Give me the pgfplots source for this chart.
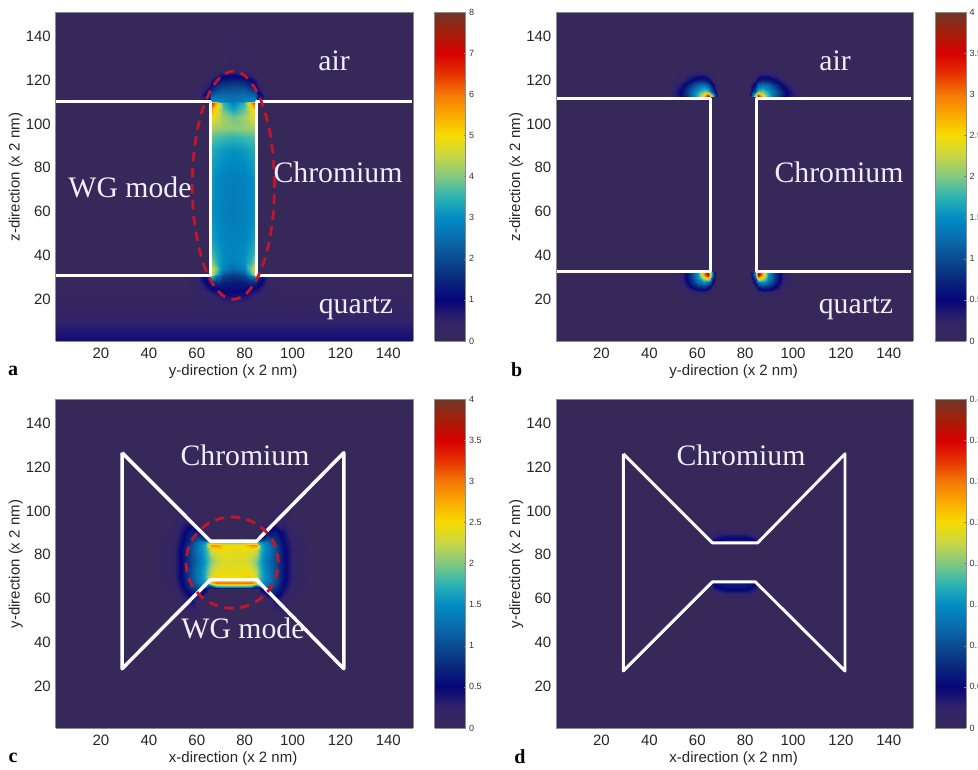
\documentclass[border=0pt]{standalone}
\usepackage{fontspec}
\setmainfont{Liberation Sans}
\newfontfamily\serifann{Liberation Serif}
\usepackage{pgfplots}
\pgfplotsset{compat=1.18}
\definecolor{ann}{RGB}{240,238,248}
\definecolor{wgred}{RGB}{196,22,42}
\pgfplotsset{
 colormap={jetm}{rgb255=(55,40,90) rgb255=(50,35,105) rgb255=(5,5,120) rgb255=(10,40,125) rgb255=(10,75,145) rgb255=(10,110,175) rgb255=(0,140,195) rgb255=(45,180,180) rgb255=(130,200,130) rgb255=(200,215,70) rgb255=(245,220,0) rgb255=(250,170,0) rgb255=(245,120,5) rgb255=(230,50,0) rgb255=(215,0,0) rgb255=(165,30,10) rgb255=(110,55,40)},
 panel/.style={
  scale only axis, width=268.1pt, height=246.75pt, view={0}{90},
  xmin=1, xmax=150.3, ymin=1, ymax=151,
  xtick={20,40,...,140}, ytick={20,40,...,140},
  /pgf/number format/assume math mode=true,
  tick label style={font=\fontsize{11.25}{13}\selectfont, color=black!85},
  xticklabel style={yshift=-2pt},
  label style={font=\fontsize{11.25}{13}\selectfont, color=black!85},
  axis line style={color=black!45}, tick style={draw=none},
  xlabel style={at={(axis description cs:0.497,-0.094)},anchor=center},
  ylabel style={at={(axis description cs:-0.111,0.498)},anchor=center},
 },
 cbar/.style={
  scale only axis, width=23.4pt, height=246.75pt, view={0}{90},
  xmin=0, xmax=1, xtick=\empty, ymin=0, ymax=#1, point meta min=0, point meta max=#1,
  axis line style={color=black!45},
  tick style={color=black!50,major tick length=1.5pt},
  tick align=inside, ytick pos=right,
  yticklabel style={font=\fontsize{6.75}{8}\selectfont,color=black!80,xshift=-1pt,
    /pgf/number format/fixed,/pgf/number format/precision=2,/pgf/number format/assume math mode=true},
 },
 wl/.style={white,line width=2.3pt,no markers,forget plot,line join=round},
 el/.style={wgred,line width=2.1pt,dash pattern=on 7pt off 5pt,smooth,no markers,forget plot},
}
\newcommand{\ann}[3]{\node[text=ann,font=\serifann\fontsize{22.3}{24}\selectfont,inner sep=0pt] at (#1,#2) {#3};}
\newcommand{\plab}[3]{\node[text=black,font=\serifann\bfseries\fontsize{15}{17}\selectfont,inner sep=0pt] at (#1,#2) {#3};}
\begin{document}
\begin{tikzpicture}[x=0.75pt,y=0.75pt]
\path[use as bounding box] (0,0) rectangle (978,770);
% ---------- a
\begin{axis}[panel,at={(41.625pt,321.75pt)},anchor=south west,
 point meta min=0,point meta max=8,
 xlabel={y-direction (x 2 nm)},ylabel={z-direction (x 2 nm)}]
\addplot3[surf,shader=interp,mesh/cols=15,forget plot] coordinates {
(1,1,.9) (56,1,.9) (61,1,.9) (65.4,1,.9) (66,1,.9) (68,1,.9) (71,1,.9) (75.3,1,.9) (79.6,1,.9) (82.6,1,.9) (84.6,1,.9) (85.2,1,.9) (89,1,.9) (94,1,.9) (150.3,1,.9)
(1,8,.6) (56,8,.6) (61,8,.6) (65.4,8,.6) (66,8,.6) (68,8,.6) (71,8,.6) (75.3,8,.6) (79.6,8,.6) (82.6,8,.6) (84.6,8,.6) (85.2,8,.6) (89,8,.6) (94,8,.6) (150.3,8,.6)
(1,16,.3) (56,16,.3) (61,16,.3) (65.4,16,.3) (66,16,.3) (68,16,.3) (71,16,.3) (75.3,16,.3) (79.6,16,.3) (82.6,16,.3) (84.6,16,.3) (85.2,16,.3) (89,16,.3) (94,16,.3) (150.3,16,.3)
(1,22,.18) (56,22,.18) (61,22,.25) (65.4,22,.4) (66,22,.45) (68,22,.6) (71,22,.8) (75.3,22,.85) (79.6,22,.8) (82.6,22,.6) (84.6,22,.45) (85.2,22,.4) (89,22,.25) (94,22,.18) (150.3,22,.18)
(1,25,.12) (56,25,.12) (61,25,.35) (65.4,25,.9) (66,25,1.0) (68,25,1.1) (71,25,1.15) (75.3,25,1.15) (79.6,25,1.15) (82.6,25,1.1) (84.6,25,1.0) (85.2,25,.9) (89,25,.35) (94,25,.12) (150.3,25,.12)
(1,28,.06) (56,28,.1) (61,28,.5) (65.4,28,1.3) (66,28,1.6) (68,28,1.6) (71,28,1.4) (75.3,28,1.3) (79.6,28,1.4) (82.6,28,1.6) (84.6,28,1.6) (85.2,28,1.3) (89,28,.5) (94,28,.1) (150.3,28,.06)
(1,30.5,.03) (56,30.5,.1) (61,30.5,.6) (65.4,30.5,1.8) (66,30.5,3.8) (68,30.5,2.7) (71,30.5,1.9) (75.3,30.5,1.7) (79.6,30.5,1.9) (82.6,30.5,2.7) (84.6,30.5,3.8) (85.2,30.5,1.8) (89,30.5,.6) (94,30.5,.1) (150.3,30.5,.03)
(1,31.5,0) (56,31.5,0) (61,31.5,0) (65.4,31.5,0) (66,31.5,4.8) (68,31.5,3.6) (71,31.5,2.2) (75.3,31.5,1.9) (79.6,31.5,2.2) (82.6,31.5,3.6) (84.6,31.5,4.8) (85.2,31.5,0) (89,31.5,0) (94,31.5,0) (150.3,31.5,0)
(1,34,0) (56,34,0) (61,34,0) (65.4,34,0) (66,34,5.0) (68,34,4.0) (71,34,2.8) (75.3,34,2.4) (79.6,34,2.8) (82.6,34,4.0) (84.6,34,5.0) (85.2,34,0) (89,34,0) (94,34,0) (150.3,34,0)
(1,37,0) (56,37,0) (61,37,0) (65.4,37,0) (66,37,4.2) (68,37,3.5) (71,37,3.0) (75.3,37,2.8) (79.6,37,3.0) (82.6,37,3.5) (84.6,37,4.2) (85.2,37,0) (89,37,0) (94,37,0) (150.3,37,0)
(1,41,0) (56,41,0) (61,41,0) (65.4,41,0) (66,41,3.7) (68,41,3.3) (71,41,3.0) (75.3,41,2.9) (79.6,41,3.0) (82.6,41,3.3) (84.6,41,3.7) (85.2,41,0) (89,41,0) (94,41,0) (150.3,41,0)
(1,48,0) (56,48,0) (61,48,0) (65.4,48,0) (66,48,3.3) (68,48,3.1) (71,48,2.9) (75.3,48,2.8) (79.6,48,2.9) (82.6,48,3.1) (84.6,48,3.3) (85.2,48,0) (89,48,0) (94,48,0) (150.3,48,0)
(1,60,0) (56,60,0) (61,60,0) (65.4,60,0) (66,60,3.1) (68,60,2.95) (71,60,2.8) (75.3,60,2.7) (79.6,60,2.8) (82.6,60,2.95) (84.6,60,3.1) (85.2,60,0) (89,60,0) (94,60,0) (150.3,60,0)
(1,75,0) (56,75,0) (61,75,0) (65.4,75,0) (66,75,3.2) (68,75,3.0) (71,75,2.85) (75.3,75,2.75) (79.6,75,2.85) (82.6,75,3.0) (84.6,75,3.2) (85.2,75,0) (89,75,0) (94,75,0) (150.3,75,0)
(1,88,0) (56,88,0) (61,88,0) (65.4,88,0) (66,88,3.4) (68,88,3.3) (71,88,3.15) (75.3,88,3.05) (79.6,88,3.15) (82.6,88,3.3) (84.6,88,3.4) (85.2,88,0) (89,88,0) (94,88,0) (150.3,88,0)
(1,94,0) (56,94,0) (61,94,0) (65.4,94,0) (66,94,3.8) (68,94,3.7) (71,94,3.6) (75.3,94,3.5) (79.6,94,3.6) (82.6,94,3.7) (84.6,94,3.8) (85.2,94,0) (89,94,0) (94,94,0) (150.3,94,0)
(1,98,0) (56,98,0) (61,98,0) (65.4,98,0) (66,98,4.3) (68,98,4.2) (71,98,4.15) (75.3,98,4.1) (79.6,98,4.15) (82.6,98,4.2) (84.6,98,4.3) (85.2,98,0) (89,98,0) (94,98,0) (150.3,98,0)
(1,103,0) (56,103,0) (61,103,0) (65.4,103,0) (66,103,5.0) (68,103,4.6) (71,103,4.2) (75.3,103,3.9) (79.6,103,4.2) (82.6,103,4.6) (84.6,103,5.0) (85.2,103,0) (89,103,0) (94,103,0) (150.3,103,0)
(1,107,0) (56,107,0) (61,107,0) (65.4,107,0) (66,107,5.6) (68,107,4.8) (71,107,3.8) (75.3,107,3.2) (79.6,107,3.8) (82.6,107,4.8) (84.6,107,5.6) (85.2,107,0) (89,107,0) (94,107,0) (150.3,107,0)
(1,109.5,0) (56,109.5,0) (61,109.5,0) (65.4,109.5,0) (66,109.5,6.8) (68,109.5,5.6) (71,109.5,3.5) (75.3,109.5,2.9) (79.6,109.5,3.5) (82.6,109.5,5.6) (84.6,109.5,6.8) (85.2,109.5,0) (89,109.5,0) (94,109.5,0) (150.3,109.5,0)
(1,110.5,0) (56,110.5,0) (61,110.5,.2) (65.4,110.5,1.2) (66,110.5,3) (68,110.5,3) (71,110.5,2.8) (75.3,110.5,2.6) (79.6,110.5,2.8) (82.6,110.5,3) (84.6,110.5,3) (85.2,110.5,1.2) (89,110.5,.2) (94,110.5,0) (150.3,110.5,0)
(1,113,0) (56,113,0) (61,113,.3) (65.4,113,1.5) (66,113,2.2) (68,113,2.4) (71,113,2.5) (75.3,113,2.4) (79.6,113,2.5) (82.6,113,2.4) (84.6,113,2.2) (85.2,113,1.5) (89,113,.3) (94,113,0) (150.3,113,0)
(1,116,0) (56,116,0) (61,116,.1) (65.4,116,.9) (66,116,1.4) (68,116,1.8) (71,116,2.1) (75.3,116,2.1) (79.6,116,2.1) (82.6,116,1.8) (84.6,116,1.4) (85.2,116,.9) (89,116,.1) (94,116,0) (150.3,116,0)
(1,119,0) (56,119,0) (61,119,0) (65.4,119,.4) (66,119,.8) (68,119,1.2) (71,119,1.5) (75.3,119,1.6) (79.6,119,1.5) (82.6,119,1.2) (84.6,119,.8) (85.2,119,.4) (89,119,0) (94,119,0) (150.3,119,0)
(1,122,0) (56,122,0) (61,122,0) (65.4,122,.1) (66,122,.2) (68,122,.6) (71,122,.9) (75.3,122,1.0) (79.6,122,.9) (82.6,122,.6) (84.6,122,.2) (85.2,122,.1) (89,122,0) (94,122,0) (150.3,122,0)
(1,125,0) (56,125,0) (61,125,0) (65.4,125,0) (66,125,0) (68,125,.05) (71,125,.15) (75.3,125,.2) (79.6,125,.15) (82.6,125,.05) (84.6,125,0) (85.2,125,0) (89,125,0) (94,125,0) (150.3,125,0)
(1,151,0) (56,151,0) (61,151,0) (65.4,151,0) (66,151,0) (68,151,0) (71,151,0) (75.3,151,0) (79.6,151,0) (82.6,151,0) (84.6,151,0) (85.2,151,0) (89,151,0) (94,151,0) (150.3,151,0)
};
\addplot[wl] coordinates {(1,110) (65.7,110) (65.7,31) (1,31)};
\addplot[wl] coordinates {(149.7,110) (84.9,110) (84.9,31) (149.7,31)};
\addplot[el] coordinates {(92.5,72) (91.9,85.5) (90.2,98) (87.5,108.8) (83.9,117) (79.8,122.2) (75.3,124) (70.8,122.2) (66.7,117) (63.1,108.8) (60.4,98) (58.7,85.5) (58.1,72) (58.7,58.5) (60.4,46) (63.1,35.2) (66.7,27) (70.8,21.8) (75.3,20) (79.8,21.8) (83.9,27) (87.5,35.2) (90.2,46) (91.9,58.5) (92.5,72)};
\end{axis}
\begin{axis}[cbar=8,at={(325.9pt,321.75pt)},anchor=south west,ytick={0,1,...,8}]
\addplot3[surf,shader=interp,mesh/cols=2,forget plot] coordinates {(0,0,0) (1,0,0) (0,8,8) (1,8,8)};
\end{axis}
% ---------- b
\begin{axis}[panel,at={(417pt,321.75pt)},anchor=south west,
 point meta min=0,point meta max=4,
 xlabel={y-direction (x 2 nm)},ylabel={z-direction (x 2 nm)}]
\addplot3[surf,shader=interp,mesh/cols=2,forget plot] coordinates {(1,1,0) (150.3,1,0) (1,151,0) (150.3,151,0)};
\addplot3[surf,shader=interp,mesh/cols=8,forget plot] coordinates {
(48,112.3,.1) (53,112.3,.4) (57,112.3,1.0) (60.5,112.3,1.8) (63,112.3,2.9) (64.6,112.3,3.6) (66,112.3,2.4) (68.5,112.3,0)
(48,113.2,.1) (53,113.2,.5) (57,113.2,1.1) (60.5,113.2,1.8) (63,113.2,2.5) (64.6,113.2,3.3) (66,113.2,2.0) (68.5,113.2,.2)
(48,115,.1) (53,115,.5) (57,115,1.1) (60.5,115,1.6) (63,115,1.9) (64.6,115,1.8) (66,115,1.0) (68.5,115,.1)
(48,117.5,0) (53,117.5,.35) (57,117.5,.8) (60.5,117.5,1.2) (63,117.5,1.3) (64.6,117.5,1.1) (66,117.5,.6) (68.5,117.5,.1)
(48,120,0) (53,120,.15) (57,120,.45) (60.5,120,.65) (63,120,.7) (64.6,120,.55) (66,120,.25) (68.5,120,0)
(48,123,0) (53,123,.03) (57,123,.15) (60.5,123,.22) (63,123,.22) (64.6,123,.15) (66,123,.05) (68.5,123,0)
(48,126,0) (53,126,0) (57,126,0) (60.5,126,0) (63,126,0) (64.6,126,0) (66,126,0) (68.5,126,0)
};
\addplot3[surf,shader=interp,mesh/cols=8,forget plot] coordinates {
(81.5,112.3,0) (84,112.3,2.4) (85.4,112.3,3.6) (87,112.3,2.9) (89.5,112.3,1.8) (93,112.3,1.0) (97,112.3,.4) (103,112.3,.1)
(81.5,113.2,.2) (84,113.2,2.0) (85.4,113.2,3.3) (87,113.2,2.5) (89.5,113.2,1.8) (93,113.2,1.1) (97,113.2,.5) (103,113.2,.1)
(81.5,115,.1) (84,115,1.0) (85.4,115,1.8) (87,115,1.9) (89.5,115,1.6) (93,115,1.1) (97,115,.5) (103,115,.1)
(81.5,117.5,.1) (84,117.5,.6) (85.4,117.5,1.1) (87,117.5,1.3) (89.5,117.5,1.2) (93,117.5,.8) (97,117.5,.35) (103,117.5,0)
(81.5,120,0) (84,120,.25) (85.4,120,.55) (87,120,.7) (89.5,120,.65) (93,120,.45) (97,120,.15) (103,120,0)
(81.5,123,0) (84,123,.05) (85.4,123,.15) (87,123,.22) (89.5,123,.22) (93,123,.15) (97,123,.03) (103,123,0)
(81.5,126,0) (84,126,0) (85.4,126,0) (87,126,0) (89.5,126,0) (93,126,0) (97,126,0) (103,126,0)
};
\addplot3[surf,shader=interp,mesh/cols=8,forget plot] coordinates {
(50,21,0) (54,21,0) (57.5,21,0) (60.5,21,0) (63,21,0) (64.6,21,0) (66,21,0) (68,21,0)
(50,24,0) (54,24,.08) (57.5,24,.25) (60.5,24,.35) (63,24,.35) (64.6,24,.28) (66,24,.08) (68,24,0)
(50,26,.02) (54,26,.18) (57.5,26,.55) (60.5,26,.85) (63,26,.95) (64.6,26,.75) (66,26,.3) (68,26,0)
(50,28,.02) (54,28,.25) (57.5,28,.75) (60.5,28,1.25) (63,28,1.55) (64.6,28,1.35) (66,28,.65) (68,28,.05)
(50,29.5,.03) (54,29.5,.3) (57.5,29.5,.85) (60.5,29.5,1.5) (63,29.5,2.3) (64.6,29.5,2.7) (66,29.5,1) (68,29.5,.1)
(50,31,.03) (54,31,.3) (57.5,31,.85) (60.5,31,1.6) (63,31,2.9) (64.6,31,3.6) (66,31,1.5) (68,31,.1)
(50,32.3,.03) (54,32.3,.3) (57.5,32.3,.85) (60.5,32.3,1.6) (63,32.3,2.9) (64.6,32.3,3.6) (66,32.3,1.5) (68,32.3,.1)
};
\addplot3[surf,shader=interp,mesh/cols=8,forget plot] coordinates {
(82,21,0) (84,21,0) (85.4,21,0) (87,21,0) (89.5,21,0) (92.5,21,0) (96,21,0) (100,21,0)
(82,24,0) (84,24,.08) (85.4,24,.28) (87,24,.35) (89.5,24,.35) (92.5,24,.25) (96,24,.08) (100,24,0)
(82,26,0) (84,26,.3) (85.4,26,.75) (87,26,.95) (89.5,26,.85) (92.5,26,.55) (96,26,.18) (100,26,.02)
(82,28,.05) (84,28,.65) (85.4,28,1.35) (87,28,1.55) (89.5,28,1.25) (92.5,28,.75) (96,28,.25) (100,28,.02)
(82,29.5,.1) (84,29.5,1) (85.4,29.5,2.7) (87,29.5,2.3) (89.5,29.5,1.5) (92.5,29.5,.85) (96,29.5,.3) (100,29.5,.03)
(82,31,.1) (84,31,1.5) (85.4,31,3.6) (87,31,2.9) (89.5,31,1.6) (92.5,31,.85) (96,31,.3) (100,31,.03)
(82,32.3,.1) (84,32.3,1.5) (85.4,32.3,3.6) (87,32.3,2.9) (89.5,32.3,1.6) (92.5,32.3,.85) (96,32.3,.3) (100,32.3,.03)
};
\addplot[wl] coordinates {(1,111.6) (65.5,111.6) (65.5,32.7) (1,32.7)};
\addplot[wl] coordinates {(149.3,111.6) (84.9,111.6) (84.9,32.7) (149.3,32.7)};
\end{axis}
\begin{axis}[cbar=4,at={(701.25pt,321.75pt)},anchor=south west,ytick={0,0.5,...,4}]
\addplot3[surf,shader=interp,mesh/cols=2,forget plot] coordinates {(0,0,0) (1,0,0) (0,4,4) (1,4,4)};
\end{axis}
% ---------- c
\begin{axis}[panel,at={(41.625pt,31.5pt)},anchor=south west,
 point meta min=0,point meta max=4,
 xlabel={x-direction (x 2 nm)},ylabel={y-direction (x 2 nm)}]
\addplot3[surf,shader=interp,mesh/cols=2,forget plot] coordinates {(1,1,0) (150.3,1,0) (1,151,0) (150.3,151,0)};
\addplot3[surf,shader=interp,mesh/cols=19,forget plot] coordinates {
(40,50,0) (50,50,0) (54,50,0) (58,50,0) (61,50,0) (63.5,50,0) (66,50,0) (68,50,0) (71,50,0) (75.3,50,0) (79.6,50,0) (82.6,50,0) (84.6,50,0) (87,50,0) (89.5,50,0) (92.5,50,0) (96.5,50,0) (100.5,50,0) (110,50,0)
(40,60,0) (50,60,.05) (54,60,.2) (58,60,.45) (61,60,.1) (63.5,60,0) (66,60,0) (68,60,0) (71,60,0) (75.3,60,0) (79.6,60,0) (82.6,60,0) (84.6,60,0) (87,60,0) (89.5,60,.1) (92.5,60,.45) (96.5,60,.2) (100.5,60,.05) (110,60,0)
(40,64.5,0) (50,64.5,.12) (54,64.5,.4) (58,64.5,.8) (61,64.5,1.0) (63.5,64.5,.5) (66,64.5,0) (68,64.5,0) (71,64.5,0) (75.3,64.5,0) (79.6,64.5,0) (82.6,64.5,0) (84.6,64.5,0) (87,64.5,.5) (89.5,64.5,1.0) (92.5,64.5,.8) (96.5,64.5,.4) (100.5,64.5,.12) (110,64.5,0)
(40,65.5,0) (50,65.5,.13) (54,65.5,.45) (58,65.5,.9) (61,65.5,1.1) (63.5,65.5,1.1) (66,65.5,.6) (68,65.5,1.4) (71,65.5,1.5) (75.3,65.5,1.5) (79.6,65.5,1.5) (82.6,65.5,1.4) (84.6,65.5,.6) (87,65.5,1.1) (89.5,65.5,1.1) (92.5,65.5,.9) (96.5,65.5,.45) (100.5,65.5,.13) (110,65.5,0)
(40,67,0) (50,67,.15) (54,67,.5) (58,67,1.0) (61,67,1.3) (63.5,67,1.6) (66,67,2.6) (68,67,3.0) (71,67,3.0) (75.3,67,3.0) (79.6,67,3.0) (82.6,67,3.0) (84.6,67,2.6) (87,67,1.6) (89.5,67,1.3) (92.5,67,1.0) (96.5,67,.5) (100.5,67,.15) (110,67,0)
(40,69,0) (50,69,.18) (54,69,.55) (58,69,1.05) (61,69,1.4) (63.5,69,1.7) (66,69,2.4) (68,69,2.7) (71,69,2.6) (75.3,69,2.55) (79.6,69,2.6) (82.6,69,2.7) (84.6,69,2.4) (87,69,1.7) (89.5,69,1.4) (92.5,69,1.05) (96.5,69,.55) (100.5,69,.18) (110,69,0)
(40,72,0) (50,72,.2) (54,72,.55) (58,72,1.05) (61,72,1.4) (63.5,72,1.7) (66,72,2.2) (68,72,2.4) (71,72,2.45) (75.3,72,2.4) (79.6,72,2.45) (82.6,72,2.4) (84.6,72,2.2) (87,72,1.7) (89.5,72,1.4) (92.5,72,1.05) (96.5,72,.55) (100.5,72,.2) (110,72,0)
(40,77,0) (50,77,.2) (54,77,.55) (58,77,1.0) (61,77,1.3) (63.5,77,1.6) (66,77,2.0) (68,77,2.2) (71,77,2.35) (75.3,77,2.35) (79.6,77,2.35) (82.6,77,2.2) (84.6,77,2.0) (87,77,1.6) (89.5,77,1.3) (92.5,77,1.0) (96.5,77,.55) (100.5,77,.2) (110,77,0)
(40,82,0) (50,82,.2) (54,82,.55) (58,82,1.05) (61,82,1.4) (63.5,82,1.7) (66,82,2.3) (68,82,2.4) (71,82,2.45) (75.3,82,2.4) (79.6,82,2.45) (82.6,82,2.4) (84.6,82,2.3) (87,82,1.7) (89.5,82,1.4) (92.5,82,1.05) (96.5,82,.55) (100.5,82,.2) (110,82,0)
(40,84.5,0) (50,84.5,.18) (54,84.5,.5) (58,84.5,1.0) (61,84.5,1.4) (63.5,84.5,1.7) (66,84.5,2.9) (68,84.5,2.9) (71,84.5,2.55) (75.3,84.5,2.5) (79.6,84.5,2.55) (82.6,84.5,2.9) (84.6,84.5,2.9) (87,84.5,1.7) (89.5,84.5,1.4) (92.5,84.5,1.0) (96.5,84.5,.5) (100.5,84.5,.18) (110,84.5,0)
(40,85.7,0) (50,85.7,.15) (54,85.7,.5) (58,85.7,.9) (61,85.7,1.3) (63.5,85.7,1.5) (66,85.7,1.8) (68,85.7,1.8) (71,85.7,1.8) (75.3,85.7,1.8) (79.6,85.7,1.8) (82.6,85.7,1.8) (84.6,85.7,1.8) (87,85.7,1.5) (89.5,85.7,1.3) (92.5,85.7,.9) (96.5,85.7,.5) (100.5,85.7,.15) (110,85.7,0)
(40,86.5,0) (50,86.5,.15) (54,86.5,.45) (58,86.5,.85) (61,86.5,1.1) (63.5,86.5,.9) (66,86.5,0) (68,86.5,0) (71,86.5,0) (75.3,86.5,0) (79.6,86.5,0) (82.6,86.5,0) (84.6,86.5,0) (87,86.5,.9) (89.5,86.5,1.1) (92.5,86.5,.85) (96.5,86.5,.45) (100.5,86.5,.15) (110,86.5,0)
(40,90,0) (50,90,.12) (54,90,.4) (58,90,.7) (61,90,.6) (63.5,90,.05) (66,90,0) (68,90,0) (71,90,0) (75.3,90,0) (79.6,90,0) (82.6,90,0) (84.6,90,0) (87,90,.05) (89.5,90,.6) (92.5,90,.7) (96.5,90,.4) (100.5,90,.12) (110,90,0)
(40,96,0) (50,96,.05) (54,96,.2) (58,96,.15) (61,96,0) (63.5,96,0) (66,96,0) (68,96,0) (71,96,0) (75.3,96,0) (79.6,96,0) (82.6,96,0) (84.6,96,0) (87,96,0) (89.5,96,0) (92.5,96,.15) (96.5,96,.2) (100.5,96,.05) (110,96,0)
(40,105,0) (50,105,0) (54,105,0) (58,105,0) (61,105,0) (63.5,105,0) (66,105,0) (68,105,0) (71,105,0) (75.3,105,0) (79.6,105,0) (82.6,105,0) (84.6,105,0) (87,105,0) (89.5,105,0) (92.5,105,0) (96.5,105,0) (100.5,105,0) (110,105,0)
};
\addplot[white,line width=2.6pt,no markers,forget plot,line join=round] coordinates {(28.8,126.5) (65.7,86.2) (85,86.2) (121.4,126.5) (121.4,28) (85,68.6) (65.7,68.6) (28.8,28) (28.8,126.5)};
\addplot[el] coordinates {(94.1,76.4) (93.4,81.8) (91.5,86.8) (88.4,91.1) (84.45,94.4) (79.8,96.5) (74.8,97.2) (69.8,96.5) (65.15,94.4) (61.2,91.1) (58.1,86.8) (56.2,81.8) (55.5,76.4) (56.2,71) (58.1,66) (61.2,61.7) (65.15,58.4) (69.8,56.3) (74.8,55.6) (79.8,56.3) (84.45,58.4) (88.4,61.7) (91.5,66) (93.4,71) (94.1,76.4)};
\end{axis}
\begin{axis}[cbar=4,at={(325.9pt,31.5pt)},anchor=south west,ytick={0,0.5,...,4}]
\addplot3[surf,shader=interp,mesh/cols=2,forget plot] coordinates {(0,0,0) (1,0,0) (0,4,4) (1,4,4)};
\end{axis}
% ---------- d
\begin{axis}[panel,at={(417pt,31.5pt)},anchor=south west,
 point meta min=0,point meta max=0.4,
 xlabel={x-direction (x 2 nm)},ylabel={y-direction (x 2 nm)}]
\addplot3[surf,shader=interp,mesh/cols=2,forget plot] coordinates {(1,1,0) (150.3,1,0) (1,151,0) (150.3,151,0)};
\addplot3[surf,shader=interp,mesh/cols=8,forget plot] coordinates {
(60,59,0) (64,59,0) (67,59,0) (72,59,0) (80,59,0) (84,59,0) (87,59,0) (91,59,0)
(60,62,0) (64,62,0) (67,62,.01) (72,62,.02) (80,62,.02) (84,62,.01) (87,62,0) (91,62,0)
(60,64,0) (64,64,0) (67,64,.03) (72,64,.05) (80,64,.05) (84,64,.03) (87,64,0) (91,64,0)
(60,66,0) (64,66,0) (67,66,.05) (72,66,.065) (80,66,.065) (84,66,.05) (87,66,0) (91,66,0)
(60,67.4,0) (64,67.4,0) (67,67.4,.05) (72,67.4,.065) (80,67.4,.065) (84,67.4,.05) (87,67.4,0) (91,67.4,0)
};
\addplot3[surf,shader=interp,mesh/cols=8,forget plot] coordinates {
(60,85.6,0) (64,85.6,0) (67,85.6,.03) (72,85.6,.06) (80,85.6,.06) (84,85.6,.03) (87,85.6,0) (91,85.6,0)
(60,86.5,0) (64,86.5,0) (67,86.5,.045) (72,86.5,.06) (80,86.5,.06) (84,86.5,.045) (87,86.5,0) (91,86.5,0)
(60,88,0) (64,88,0) (67,88,.03) (72,88,.045) (80,88,.045) (84,88,.03) (87,88,0) (91,88,0)
(60,91,0) (64,91,0) (67,91,.01) (72,91,.015) (80,91,.015) (84,91,.01) (87,91,0) (91,91,0)
(60,94,0) (64,94,0) (67,94,0) (72,94,0) (80,94,0) (84,94,0) (87,94,0) (91,94,0)
};
\addplot[white,line width=2.2pt,no markers,forget plot,line join=round] coordinates {(29.1,126) (66.3,85.4) (85.2,85.4) (121.7,126) (121.7,27) (84.3,67.6) (66.3,67.6) (29.1,27) (29.1,126)};
\end{axis}
\begin{axis}[cbar=0.4,at={(701.25pt,31.5pt)},anchor=south west,ytick={0,0.05,0.1,0.15,0.2,0.25,0.3,0.35,0.4}]
\addplot3[surf,shader=interp,mesh/cols=2,forget plot] coordinates {(0,0,0) (1,0,0) (0,0.4,0.4) (1,0.4,0.4)};
\end{axis}
% ---------- annotations
\ann{334}{709.3}{air}
\ann{338}{598}{Chromium}
\ann{130}{583}{WG mode}
\ann{356}{462}{quartz}
\ann{835}{709.3}{air}
\ann{839}{598}{Chromium}
\ann{856}{462}{quartz}
\ann{245}{314.3}{Chromium}
\ann{243}{142}{WG mode}
\ann{741}{314.3}{Chromium}
\plab{13}{399.3}{a}
\plab{516.7}{400}{b}
\plab{13}{12}{c}
\plab{520}{13}{d}
\end{tikzpicture}
\end{document}
